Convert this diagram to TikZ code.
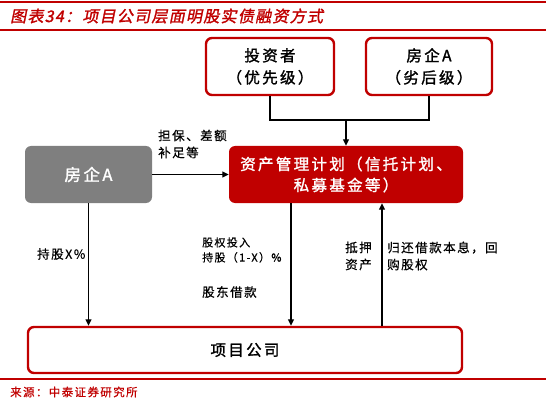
\documentclass[tikz,border=0pt]{standalone}
\usepackage{fontspec}
\usetikzlibrary{arrows.meta,calc}
\newfontfamily\cjk{Noto Sans CJK SC}[FakeBold=0.6,LetterSpace=12]
\newfontfamily\cjkb{Noto Sans CJK SC}[FakeBold=1.5,LetterSpace=15]
\newfontfamily\cjkt{Noto Sans CJK SC}[FakeBold=1.5,FakeSlant=0.2,LetterSpace=8]
\definecolor{zred}{HTML}{C00000}
\definecolor{zgray}{HTML}{7F7F7F}
\begin{document}
\begin{tikzpicture}[x=1pt,y=-1pt,
  redbox/.style={draw=zred,line width=2.4pt,rounded corners=6pt,fill=white,align=center,font=\cjkb\fontsize{15.5}{22}\selectfont,inner sep=0pt},
  fillbox/.style={rounded corners=6pt,align=center,text=white,font=\cjkb\fontsize{15.5}{21}\selectfont,inner sep=0pt},
  conn/.style={line width=1.3pt,black},
  arr/.style={conn,-{Triangle[length=6.5pt,width=6pt]}},
  lbl/.style={font=\cjk\fontsize{12.5}{17}\selectfont,align=left,inner sep=0pt,anchor=west}]
\useasboundingbox (0,0) rectangle (546,401);
% title bars
\draw[zred,line width=2.4pt] (0,2) -- (546,2);
\draw[zred,line width=2.4pt] (0,30) -- (546,30);
\node[anchor=west,inner sep=0pt,text=zred,font=\cjkt\fontsize{16}{18}\selectfont] (title) at (10,16) {图表34：项目公司层面明股实债融资方式};
% nodes
\node[redbox,minimum width=128pt,minimum height=57pt] (inv) at (270,66.5) {投资者\\（优先级）};
\node[redbox,minimum width=126pt,minimum height=57pt] (fqa) at (429,66.5) {房企A\\（劣后级）};
\node[fillbox,fill=zred,minimum width=234pt,minimum height=57pt] (plan) at (346,174.5) {资产管理计划（信托计划、\\私募基金等）};
\node[fillbox,fill=zgray,minimum width=127pt,minimum height=57pt,font=\cjkb\fontsize{16.5}{21}\selectfont] (fa) at (88.5,174.5) {房企A};
\node[redbox,minimum width=434pt,minimum height=46pt,font=\cjkb\fontsize{15.5}{18}\selectfont] (proj) at (245,350) {项目公司};
% connectors top
\coordinate (join) at (346,120);
\draw[conn] (inv.south) -- (inv.south |- join) -- (fqa.south |- join) -- (fqa.south);
\draw[arr] (join) -- (plan.north);
% side arrow
\draw[arr] (fa.east) -- (plan.west);
\node[lbl] (l1) at (158,144) {担保、差额\\补足等};
% verticals
\coordinate (mx) at (291,0);
\coordinate (rx) at (382,0);
\draw[arr] (fa.south) -- (fa.south |- proj.north);
\draw[arr] (plan.south -| mx) -- (proj.north -| mx);
\draw[arr] (proj.north -| rx) -- (plan.south -| rx);
\node[lbl] (l2) at (37,254) {持股X\%};
\node[lbl,font=\cjk\fontsize{11}{15}\selectfont] (l3) at (202,250) {股权投入\\持股（1-X）\%};
\node[lbl] (l4) at (202,292) {股东借款};
\node[lbl] (l5) at (345,256) {抵押\\资产};
\node[lbl] (l6) at (387,256) {归还借款本息，回\\购股权};
% footer
\draw[zred,line width=2pt] (0,379) -- (546,379);
\node[anchor=west,inner sep=0pt,text=zred,font=\cjk\fontsize{11.5}{12}\selectfont] (src) at (10,392) {来源：中泰证券研究所};
\end{tikzpicture}
\end{document}
